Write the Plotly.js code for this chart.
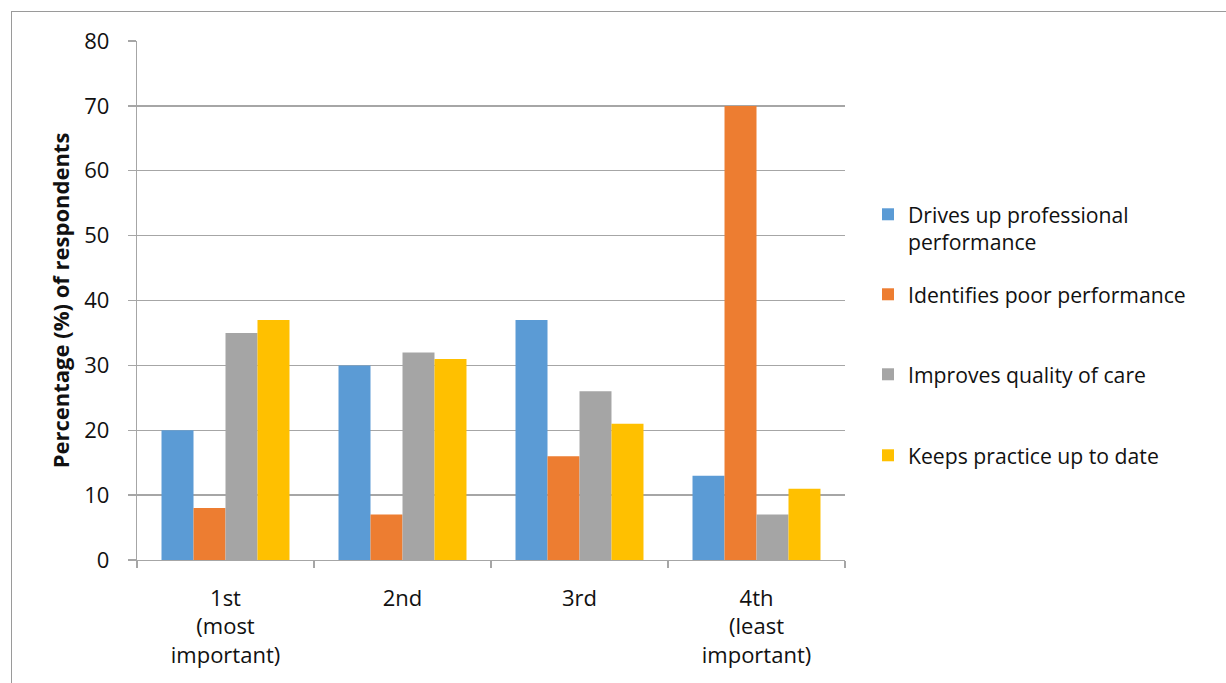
<!DOCTYPE html>
<html>
<head>
<meta charset="utf-8">
<script src="https://cdn.plot.ly/plotly-3.0.1.min.js"></script>
<style>
  html, body { margin: 0; padding: 0; background: #fff; }
  #wrap { position: relative; width: 1226px; height: 683px; overflow: hidden; }
  #chart { width: 1226px; height: 683px; }
  #frame { position: absolute; left: 11px; top: 11px; width: 1300px; height: 800px;
           border-left: 1.5px solid #9a9a9a; border-top: 1.5px solid #9a9a9a; pointer-events: none; }
</style>
</head>
<body>
<div id="wrap">
  <div id="chart"></div>
  <div id="frame"></div>
</div>
<script>
const categories = ["1st<br>(most<br>important)", "2nd", "3rd", "4th<br>(least<br>important)"];
const seriesNames = ["Drives up professional<br>performance", "Identifies poor performance", "Improves quality of care", "Keeps practice up to date"];
const drivesUp = [20, 30, 37, 13];
const identifiesPoor = [8, 7, 16, 70];
const improvesQuality = [35, 32, 26, 7];
const keepsPractice = [37, 31, 21, 11];
const yTicks = [0, 10, 20, 30, 40, 50, 60, 70, 80];

const colors = ["#5B9BD5", "#ED7D31", "#A5A5A5", "#FFC000"];
const allValues = [drivesUp, identifiesPoor, improvesQuality, keepsPractice];
const legendIds = ["legend", "legend2", "legend3", "legend4"];

const FONT = "Open Sans";
const traces = allValues.map((vals, i) => ({
  type: "bar",
  name: seriesNames[i],
  x: categories,
  y: vals,
  marker: { color: colors[i], line: { width: 0 } },
  legend: legendIds[i],
  hoverinfo: "skip"
}));

// legend placement (pixel targets converted to paper coordinates)
const L = 137, R = 845, T = 41, B = 560;
const pw = R - L, ph = B - T;
const legendTopsPx = [194, 274, 354, 435];
function legendCfg(topPx) {
  return {
    x: (868 - L) / pw, xanchor: "left",
    y: (B - topPx) / ph, yanchor: "top",
    valign: "top",
    font: { family: FONT, size: 21.2, color: "#111111" },
    bgcolor: "rgba(0,0,0,0)",
    itemwidth: 30
  };
}

const layout = {
  width: 1226, height: 683,
  margin: { l: L, r: 1226 - R, t: T, b: 683 - B, pad: 0 },
  paper_bgcolor: "#ffffff",
  plot_bgcolor: "#ffffff",
  font: { family: FONT, color: "#111111" },
  barmode: "group",
  bargap: 0.277,
  bargroupgap: 0,
  showlegend: true,
  xaxis: {
    type: "category",
    showline: true, linecolor: "#A6A6A6", linewidth: 1.3,
    ticks: "outside", tickson: "boundaries", ticklen: 7, tickcolor: "#A6A6A6", tickwidth: 1.3,
    ticklabelstandoff: 18,
    showgrid: false, zeroline: false,
    tickfont: { family: FONT, size: 22, color: "#111111" },
    fixedrange: true
  },
  yaxis: {
    range: [0, 80],
    tickvals: yTicks,
    ticktext: yTicks.map(String),
    showline: true, linecolor: "#A6A6A6", linewidth: 1.3,
    ticks: "outside", ticklen: 8, tickcolor: "#A6A6A6", tickwidth: 1.3,
    ticklabelstandoff: 14,
    showgrid: true, gridcolor: "#A6A6A6", gridwidth: 1.3,
    zeroline: false,
    tickfont: { family: FONT, size: 22, color: "#111111" },
    title: { text: "Percentage (%) of respondents", standoff: 8,
             font: { family: FONT, size: 22, color: "#111111", weight: "bold" } },
    fixedrange: true
  },
  legend: legendCfg(legendTopsPx[0]),
  legend2: legendCfg(legendTopsPx[1]),
  legend3: legendCfg(legendTopsPx[2]),
  legend4: legendCfg(legendTopsPx[3])
};

Plotly.newPlot("chart", traces, layout, { displayModeBar: false, staticPlot: true });
</script>
</body>
</html>
